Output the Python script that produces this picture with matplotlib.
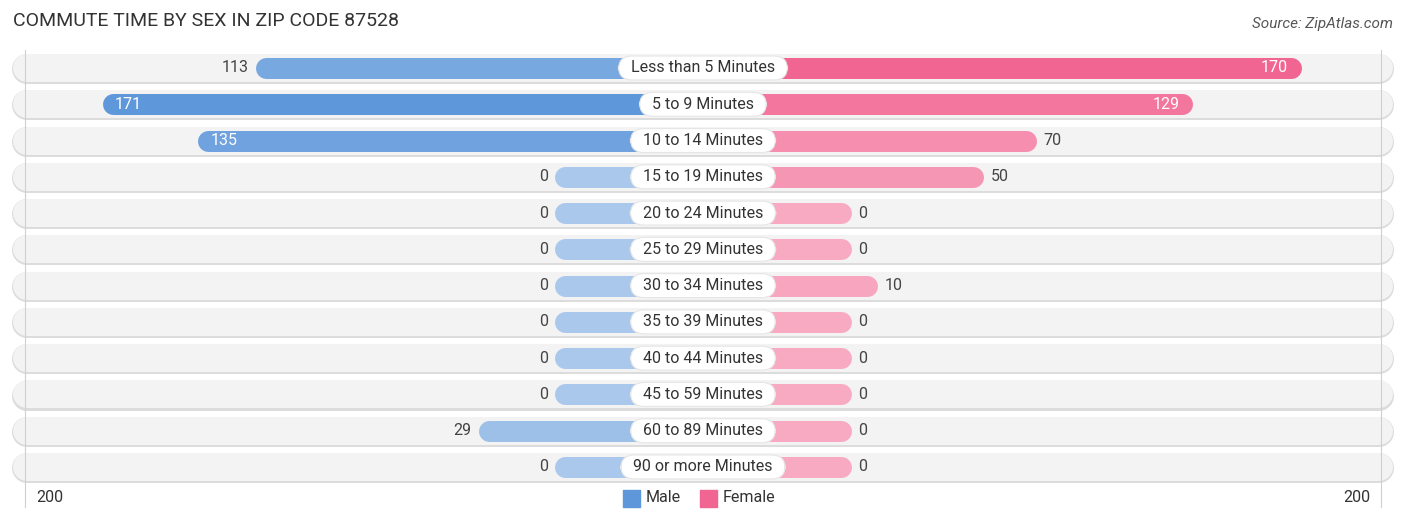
import numpy as np
import matplotlib.pyplot as plt
import matplotlib.colors as mcolors

plt.rcParams['font.family'] = ['Roboto', 'DejaVu Sans']

# Data
categories = ["Less than 5 Minutes", "5 to 9 Minutes", "10 to 14 Minutes", "15 to 19 Minutes",
              "20 to 24 Minutes", "25 to 29 Minutes", "30 to 34 Minutes", "35 to 39 Minutes",
              "40 to 44 Minutes", "45 to 59 Minutes", "60 to 89 Minutes", "90 or more Minutes"]
male = [113, 171, 135, 0, 0, 0, 0, 0, 0, 0, 29, 0]
female = [170, 129, 70, 50, 0, 0, 10, 0, 0, 0, 0, 0]
axis_max = 200

# Layout (px at dpi 100)
W, H = 1406, 523
PX = 2.647            # px per unit
OFF = 56              # stub length of a zero bar, in units
CX = 703              # centre in px
ROW0, ROWSTEP = 68, 36.27

fig = plt.figure(figsize=(W / 100, H / 100), dpi=100)
ax = fig.add_axes([0, 0, 1, 1])
ax.set_xlim(-CX / PX, (W - CX) / PX)
ax.set_ylim((H - ROW0) / ROWSTEP, -ROW0 / ROWSTEP)
ax.axis('off')

def u(px):
    return px / PX

def pt(px):
    return px * 0.72

male_light, male_dark = np.array(mcolors.to_rgb("#a9c8eb")), np.array(mcolors.to_rgb("#5f98da"))
fem_light, fem_dark = np.array(mcolors.to_rgb("#f8aac3")), np.array(mcolors.to_rgb("#f06592"))
vmax = max(max(male), max(female))

def shade(v, lo, hi):
    t = v / vmax
    return lo + (hi - lo) * t

left_edge = u(12 - CX)
right_edge = u(1393 - CX)
pill_r = u(14.5)
bar_r = u(10.5)
FS = 11.5

for i, cat in enumerate(categories):
    # row background pill
    ax.plot([left_edge + pill_r, right_edge - pill_r], [i + 0.03, i + 0.03], lw=pt(30), color="#dcdcdc",
            solid_capstyle='round', zorder=1)
    ax.plot([left_edge + pill_r, right_edge - pill_r], [i, i], lw=pt(28), color="#f3f3f3",
            solid_capstyle='round', zorder=1.1)

    m, f = male[i], female[i]
    mend = -(OFF + m)
    fend = OFF + f
    ax.plot([mend + bar_r, 0], [i, i], lw=pt(21), color=shade(m, male_light, male_dark),
            solid_capstyle='round', zorder=3)
    ax.plot([0, fend - bar_r], [i, i], lw=pt(21), color=shade(f, fem_light, fem_dark),
            solid_capstyle='round', zorder=3)

    # value labels
    if m > 120:
        ax.text(mend + u(13), i, str(m), ha='left', va='center', fontsize=FS, color='white', zorder=5)
    else:
        ax.text(mend - u(7), i, str(m), ha='right', va='center', fontsize=FS, color='#444444', zorder=5)
    if f > 120:
        ax.text(fend - u(13), i, str(f), ha='right', va='center', fontsize=FS, color='white', zorder=5)
    else:
        ax.text(fend + u(7), i, str(f), ha='left', va='center', fontsize=FS, color='#444444', zorder=5)

    # category label
    ax.text(0, i, "  " + cat + "  ", ha='center', va='center', fontsize=FS, color='#333333', zorder=6,
            bbox=dict(boxstyle="round,pad=0.28,rounding_size=0.85", fc='white', ec='#e6e6e6', lw=0.8))

# gridlines at +/- axis max
n = len(categories)
for s in (-1, 1):
    ax.plot([s * (OFF + axis_max)] * 2, [-0.5, n - 1 + 40 / ROWSTEP], color='#cfcfcf', lw=0.8, zorder=2)

ybot = n - 1 + (498 - 467) / ROWSTEP
ax.text(u(36 - CX), ybot, str(axis_max), ha='left', va='center', fontsize=FS, color='#333333')
ax.text(u(1370 - CX), ybot, str(axis_max), ha='right', va='center', fontsize=FS, color='#333333')

# legend
ax.scatter([u(631 - CX)], [ybot], marker='s', s=pt(17) ** 2, color="#5f98da", zorder=5)
ax.text(u(646 - CX), ybot, "Male", ha='left', va='center', fontsize=FS, color='#333333')
ax.scatter([u(708 - CX)], [ybot], marker='s', s=pt(17) ** 2, color="#f06592", zorder=5)
ax.text(u(723 - CX), ybot, "Female", ha='left', va='center', fontsize=FS, color='#333333')

fig.text(13 / W, 1 - 21 / H, "COMMUTE TIME BY SEX IN ZIP CODE 87528", ha='left', va='center',
         fontsize=14, color='#333333')
fig.text(1393 / W, 1 - 24 / H, "Source: ZipAtlas.com", ha='right', va='center', fontsize=11,
         color='#555555', style='italic')

fig.savefig("out.png", dpi=100)
